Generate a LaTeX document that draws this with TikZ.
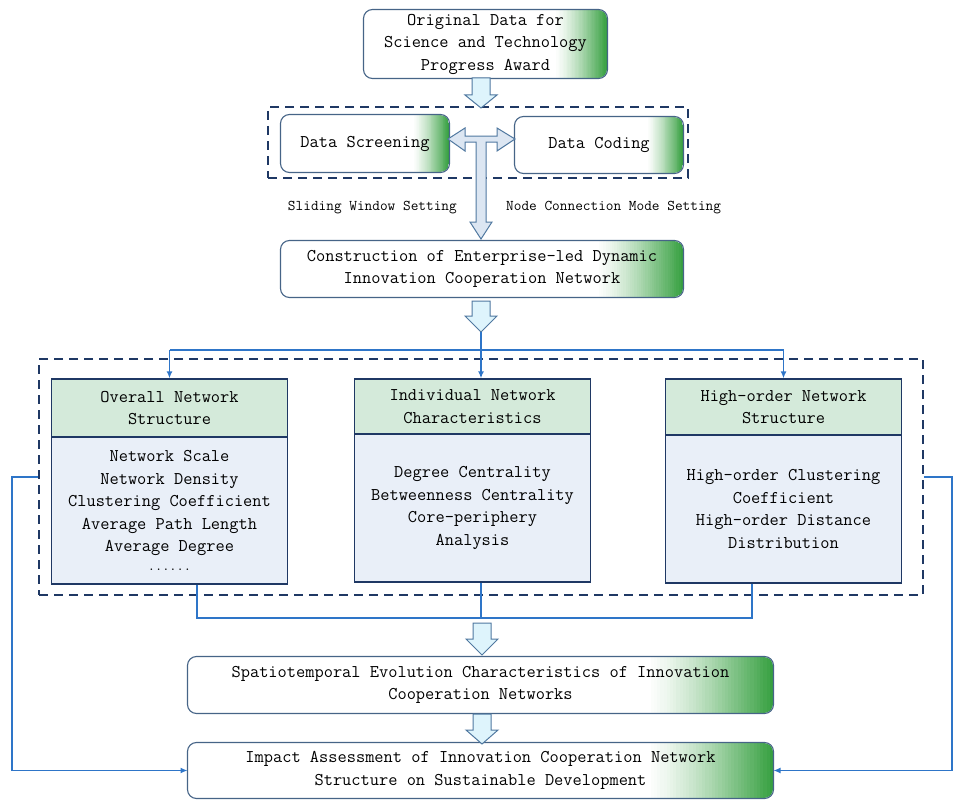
\documentclass[tikz,border=0pt]{standalone}
\usepackage{fontspec}
\usetikzlibrary{calc,arrows.meta}
\definecolor{navy}{RGB}{31,56,100}
\definecolor{boxborder}{RGB}{70,100,135}
\definecolor{gcol}{RGB}{55,160,65}
\definecolor{bluecon}{RGB}{46,117,200}
\definecolor{cyanfill}{RGB}{222,244,252}
\definecolor{tfill}{RGB}{220,230,242}
\definecolor{arrowborder}{RGB}{80,120,160}
\definecolor{headgreen}{RGB}{212,234,218}
\definecolor{bodyblue}{RGB}{233,239,248}
\newcommand\blkarrow[4]{\draw[barrow] (#1-9,#2) -- (#1+9,#2) -- (#1+9,#3) -- (#1+16,#3) -- (#1,#4) -- (#1-16,#3) -- (#1-9,#3) -- cycle;}
\begin{document}
\begin{tikzpicture}[x=1pt,y=-1pt,
  mainfont/.style={font=\ttfamily\fontsize{17.9}{22.5}\selectfont},
  gbox/.style={mainfont, line width=1pt, rounded corners=9pt, fill=white, align=center, inner sep=0pt,
    path picture={
      \foreach \i [evaluate=\i as \p using {int(100*(\i/39)^1.3)}] in {0,...,39}{
        \fill[sharp corners, gcol!\p!white]
          ($(path picture bounding box.south west)!{0.78+0.22*\i/40}!(path picture bounding box.south east)$)
          rectangle ($(path picture bounding box.north west)!{0.78+0.22*(\i+1.4)/40}!(path picture bounding box.north east)$);
      }}},
  gborder/.style={draw=boxborder, line width=1.1pt, rounded corners=9pt},
  hbox/.style={mainfont, draw=navy, line width=1.3pt, fill=headgreen, align=center, inner sep=0pt, minimum width=236pt},
  bbox/.style={mainfont, draw=navy, line width=1.3pt, fill=bodyblue, align=center, inner sep=0pt, minimum width=236pt},
  dbox/.style={draw=navy, line width=1.8pt, dash pattern=on 9pt off 6pt},
  con/.style={draw=bluecon, line width=1.7pt},
  conarrow/.style={con, -{Latex[length=7pt,width=6pt]}},
  barrow/.style={draw=arrowborder, line width=1pt, fill=cyanfill, line join=miter},
  lbl/.style={font=\ttfamily\fontsize{14.9}{18}\selectfont, inner sep=0pt}
]
\useasboundingbox (0,0) rectangle (962,808);

% dashed groups
\node[dbox, minimum width=420pt, minimum height=71pt, inner sep=0pt] (grp1) at (478,142.5) {};
\node[dbox, minimum width=884pt, minimum height=236pt, inner sep=0pt] (grp2) at (481,477) {};

% boxes
\node[gbox, minimum width=243pt, minimum height=68pt] (orig) at (485.5,44) {Original Data for\\Science and Technology\\Progress Award};
\node[gbox, minimum width=168pt, minimum height=57pt] (scr) at (365,143.5) {Data Screening};
\node[gbox, minimum width=168pt, minimum height=56pt] (cod) at (599,145) {Data Coding};
\node[gbox, minimum width=402pt, minimum height=56pt] (cons) at (482,269) {Construction of Enterprise-led Dynamic\\Innovation Cooperation Network};
\node[gbox, minimum width=585pt, minimum height=56pt] (spat) at (480.5,685) {Spatiotemporal Evolution Characteristics of Innovation\\Cooperation Networks};
\node[gbox, minimum width=585pt, minimum height=55pt] (imp) at (480.5,770.5) {Impact Assessment of Innovation Cooperation Network\\Structure on Sustainable Development};
\foreach \n in {orig,scr,cod,cons,spat,imp}
  \draw[gborder] (\n.south west) rectangle (\n.north east);

% panels
\node[hbox, minimum height=58pt] (hl) at (169.5,408) {Overall Network\\Structure};
\node[bbox, minimum height=147pt] (bl) at (169.5,510.5) {Network Scale\\Network Density\\Clustering Coefficient\\Average Path Length\\Average Degree\\[-4pt]{\fontsize{14}{14}\selectfont ......}};
\node[hbox, minimum height=55pt] (hm) at (472.5,406.5) {Individual Network\\Characteristics};
\node[bbox, minimum height=148pt] (bm) at (472.5,508) {Degree Centrality\\Betweenness Centrality\\Core-periphery\\Analysis};
\node[hbox, minimum height=56pt] (hr) at (783.5,407) {High-order Network\\Structure};
\node[bbox, minimum height=148pt] (br) at (783.5,509) {High-order Clustering\\Coefficient\\High-order Distance\\Distribution};

% block arrows
\blkarrow{481}{78}{95}{108}
\blkarrow{481}{301}{316}{332}
\blkarrow{482}{623}{639}{655}
\blkarrow{482}{714}{730}{744}

% T double arrow
\draw[barrow, fill=tfill] (448,139) -- (465,128) -- (465,136) -- (497,136) -- (497,128) -- (515,139)
  -- (497,151) -- (497,142) -- (486,142) -- (486,222) -- (492,222) -- (481,239) -- (470,222)
  -- (476,222) -- (476,142) -- (465,142) -- (465,151) -- cycle;

% labels
\node[lbl, anchor=east] (lsw) at (457,208) {Sliding Window Setting};
\node[lbl, anchor=west] (lnc) at (506,208) {Node Connection Mode Setting};

% top connectors
\coordinate (a2tip) at (481,332);
\coordinate (jl) at (169.5,350);
\coordinate (jr) at (783.5,350);
\draw[conarrow] (a2tip) -- (hm.north -| a2tip);
\draw[con] (jl) -- (jr);
\draw[conarrow] (jl) -- (hl.north);
\draw[conarrow] (jr) -- (hr.north);

% bottom connectors
\coordinate (bl1) at (197,618);
\coordinate (br1) at (752,618);
\draw[con] (bl.south -| bl1) -- (bl1) -- (br1) -- (br.south -| br1);
\draw[con] (bm.south -| 481,0) -- (481,618);

% side loops
\coordinate (lc) at (12,477);
\coordinate (rc) at (952,477);
\draw[conarrow] (grp2.west |- lc) -- (lc) -- (lc |- imp.west) -- (imp.west);
\draw[conarrow] (grp2.east |- rc) -- (rc) -- (rc |- imp.east) -- (imp.east);
\end{tikzpicture}
\end{document}
